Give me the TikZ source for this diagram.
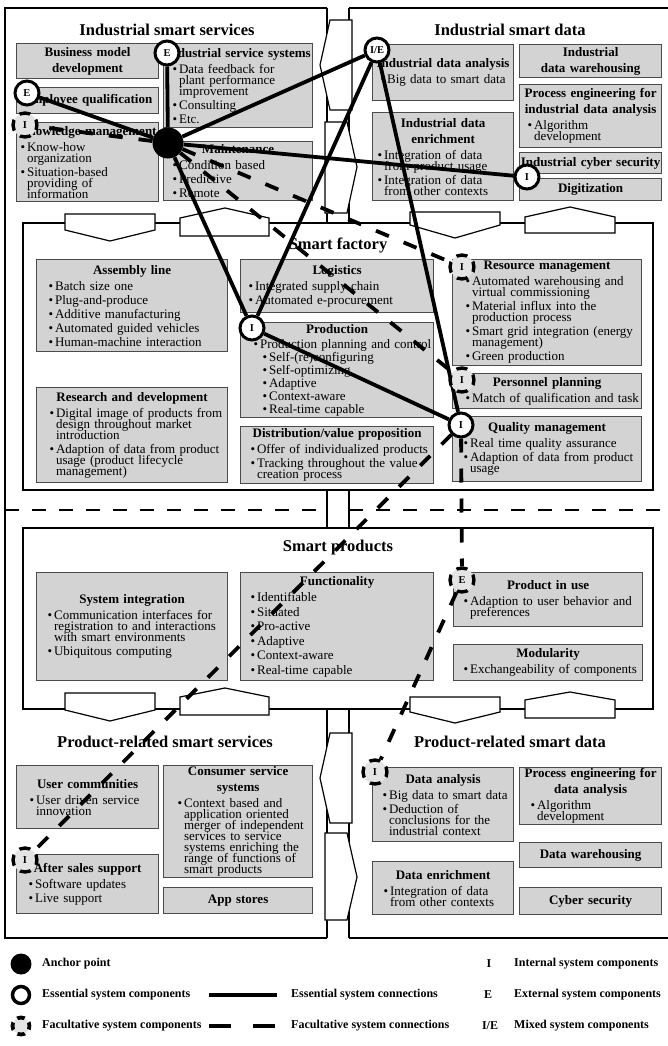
\documentclass[tikz,border=0pt]{standalone}
\usepackage{fontspec}
\setmainfont{Liberation Serif}
\usepackage{tikz}
\usetikzlibrary{positioning}
\definecolor{boxgray}{RGB}{211,211,211}
\definecolor{boxedge}{RGB}{75,75,75}
\definecolor{facgray}{RGB}{228,228,228}

\pgfdeclarelayer{front}
\pgfsetlayers{main,front}

\newlength{\bulind}
\newcommand{\hd}[1]{{\centering\setlength{\parskip}{0pt}\fontsize{13}{16}\selectfont\bfseries #1\par}\vspace{2pt}}
\newcommand{\itm}[1]{{\raggedright\let\\\newline\leftskip=\bulind\hangindent=6.5pt\hangafter=1\noindent\makebox[6.5pt][l]{\textbullet}#1\par}}
\newcommand{\sitm}[1]{{\raggedright\let\\\newline\leftskip=\dimexpr\bulind+9pt\relax\hangindent=6.5pt\hangafter=1\noindent\makebox[6.5pt][l]{\textbullet}#1\par}}

\begin{document}
\begin{tikzpicture}[
  x=1pt, y=-1pt,
  gbox/.style 2 args={draw=boxedge, line width=1.2pt, fill=boxgray, anchor=north west,
    inner xsep=1pt, inner ysep=0.5pt, minimum width=#1pt, minimum height=#2pt,
    text width=#1pt-2pt, font=\fontsize{13}{11}\selectfont, bul=7pt,
    execute at begin node={\setlength{\parskip}{3pt}\lineskiplimit=-\maxdimen}},
  bul/.code={\setlength{\bulind}{#1}},
  qtitle/.style={font=\fontsize{16.5}{18}\selectfont\bfseries, inner sep=0pt},
  outerln/.style={line width=2.4pt, line join=miter},
  thinln/.style={line width=1.2pt},
  tabshape/.style={draw, fill=white, line width=1.2pt, line join=miter},
  sepln/.style={line width=2pt, dash pattern=on 14pt off 13pt},
  anc/.style={circle, fill=black, minimum size=31pt, inner sep=0pt},
  ess/.style={circle, draw, line width=3pt, fill=white, minimum size=24pt, inner sep=0pt,
    font=\fontsize{10.5}{10.5}\selectfont\bfseries},
  fac/.style={ess, line width=3.4pt, fill=facgray, dash pattern=on 11pt off 7.85pt, dash phase=5.5pt},
  econ/.style={line width=3.8pt},
  fcon/.style={line width=3.8pt, dash pattern=on 14pt off 16pt},
  lgtext/.style={font=\fontsize{12}{12}\selectfont\bfseries, inner sep=0pt}
]
  \useasboundingbox (0,0) rectangle (667,1046);

  % frames of the four quadrants
  \draw[outerln] (327,8) -- (5,8) -- (5,938) -- (327,938);
  \draw[outerln] (349,8) -- (668,8);
  \draw[outerln] (349,938) -- (668,938);
  \draw[thinln] (327,8) -- (327,223) (327,490) -- (327,528) (327,709) -- (327,938);
  \draw[thinln] (349,8) -- (349,223) (349,490) -- (349,528) (349,709) -- (349,938);
  \draw[sepln] (5,510) -- (327,510);
  \draw[sepln] (349,510) -- (667,510);
  \draw[thinln] (23,223) rectangle (653,490);
  \draw[thinln] (23,528) rectangle (653,709);

  % tabs between the areas
  \draw[tabshape] (352,20) -- (330,20) -- (320,65) -- (330,110) -- (352,110) -- cycle;
  \draw[tabshape] (325,122) -- (347,122) -- (357,167) -- (347,213) -- (325,213) -- cycle;
  \draw[tabshape] (352,733) -- (330,733) -- (320,778) -- (330,823) -- (352,823) -- cycle;
  \draw[tabshape] (325,833) -- (347,833) -- (357,877) -- (347,920) -- (325,920) -- cycle;
  \draw[tabshape] (65,214) -- (155,214) -- (155,230) -- (110,241) -- (65,230) -- cycle;
  \draw[tabshape] (180,236) -- (180,218) -- (225,208) -- (269,218) -- (269,236) -- cycle;
  \draw[tabshape] (410,212) -- (500,212) -- (500,225) -- (455,238) -- (410,225) -- cycle;
  \draw[tabshape] (525,233) -- (525,217) -- (570,207) -- (615,217) -- (615,233) -- cycle;
  \draw[tabshape] (65,693) -- (155,693) -- (155,710) -- (110,721) -- (65,710) -- cycle;
  \draw[tabshape] (180,715) -- (180,697) -- (225,688) -- (269,697) -- (269,715) -- cycle;
  \draw[tabshape] (410,697) -- (500,697) -- (500,712) -- (455,723) -- (410,712) -- cycle;
  \draw[tabshape] (525,718) -- (525,700) -- (570,692) -- (615,700) -- (615,718) -- cycle;

  % Industrial smart services
  \node[qtitle] (tiss) at (167,30) {Industrial smart services};
  \node[gbox={142}{35}] (bizmodel) at (16,43) {\hd{Business model\\development}};
  \node[gbox={142}{26}] (empqual) at (16,87) {\hd{Employee qualification}};
  \node[gbox={142}{79}, bul=3pt] (knowmgmt) at (16,122)
    {\hd{Knowledge management}\itm{Know-how\\organization}\itm{Situation-based\\providing of\\information}};
  \node[gbox={149}{84}, bul=8pt] (indserv) at (163,43)
    {\hd{Industrial service systems}\itm{Data feedback for\\plant performance\\improvement}\itm{Consulting}\itm{Etc.}};
  \node[gbox={149}{59}, bul=8pt] (maint) at (163,141)
    {\hd{Maintenance}\itm{Condition based}\itm{Predictive}\itm{Remote}};

  % Industrial smart data
  \node[qtitle] (tisd) at (510,30) {Industrial smart data};
  \node[gbox={141}{56}] (idana) at (372,44) {\hd{Industrial data analysis}\itm{Big data to smart data}};
  \node[gbox={141}{88}, bul=4pt] (idenr) at (372,112)
    {\hd{Industrial data\\enrichment}\itm{Integration of data\\from product usage}\itm{Integration of data\\from other contexts}};
  \node[gbox={142}{33}] (idware) at (519,44) {\hd{Industrial\\data warehousing}};
  \node[gbox={142}{63}] (iproc) at (519,84)
    {\hd{Process engineering for\\industrial data analysis}\itm{Algorithm\\development}};
  \node[gbox={142}{21}] (icyber) at (519,152) {\hd{Industrial cyber security}};
  \node[gbox={142}{22}] (digit) at (519,178) {\hd{Digitization}};

  % Smart factory
  \node[qtitle] (tsf) at (338,245) {Smart factory};
  \node[gbox={191}{92}, bul=11pt] (assembly) at (36,259)
    {\hd{Assembly line}\itm{Batch size one}\itm{Plug-and-produce}\itm{Additive manufacturing}\itm{Automated guided vehicles}\itm{Human-machine interaction}};
  \node[gbox={191}{95}, bul=12pt] (resdev) at (36,387)
    {\hd{Research and development}\itm{Digital image of products from\\design throughout market\\introduction}\itm{Adaption of data from product\\usage (product lifecycle\\management)}};
  \node[gbox={193}{53}] (logist) at (240,259)
    {\hd{Logistics}\itm{Integrated supply chain}\itm{Automated e-procurement}};
  \node[gbox={193}{95}, bul=12pt, execute at begin node={\setlength{\parskip}{2pt}}] (prod) at (240,322)
    {\hd{Production}\itm{Production planning and control}\sitm{Self-(re)configuring}\sitm{Self-optimizing}\sitm{Adaptive}\sitm{Context-aware}\sitm{Real-time capable}};
  \node[gbox={193}{57}, bul=9pt] (distrib) at (240,426)
    {\hd{Distribution/value proposition}\itm{Offer of individualized products}\itm{Tracking throughout the value\\creation process}};
  \node[gbox={189}{106}, bul=12pt] (resmgmt) at (452,259)
    {\hd{Resource management}\itm{Automated warehousing and\\virtual commissioning}\itm{Material influx into the\\production process}\itm{Smart grid integration (energy\\management)}\itm{Green production}};
  \node[gbox={189}{35}, bul=12pt] (perspl) at (452,373)
    {\hd{Personnel planning}\itm{Match of qualification and task}};
  \node[gbox={189}{65}, bul=10pt] (qualmgmt) at (452,416)
    {\hd{Quality management}\itm{Real time quality assurance}\itm{Adaption of data from product\\usage}};

  % Smart products
  \node[qtitle] (tsp) at (338,548) {Smart products};
  \node[gbox={191}{108}, bul=10pt] (sysint) at (36,572)
    {\hd{System integration}\itm{Communication interfaces for\\registration to and interactions\\with smart environments}\itm{Ubiquitous computing}};
  \node[gbox={193}{108}, bul=9pt, execute at begin node={\setlength{\parskip}{3.5pt}}] (funct) at (240,572)
    {\hd{Functionality}\itm{Identifiable}\itm{Situated}\itm{Pro-active}\itm{Adaptive}\itm{Context-aware}\itm{Real-time capable}};
  \node[gbox={189}{54}, bul=9pt] (prodinuse) at (453,572)
    {\hd{Product in use}\itm{Adaption to user behavior and\\preferences}};
  \node[gbox={189}{36}, bul=9pt] (modul) at (453,644)
    {\hd{Modularity}\itm{Exchangeability of components}};

  % Product-related smart services
  \node[qtitle] (tpss) at (165,742) {Product-related smart services};
  \node[gbox={142}{63}, bul=12pt] (usercom) at (16,765)
    {\hd{User communities}\itm{User driven service\\innovation}};
  \node[gbox={142}{59}, bul=11pt] (aftersale) at (16,854)
    {\hd{After sales support}\itm{Software updates}\itm{Live support}};
  \node[gbox={149}{112}, bul=13pt] (conserv) at (163,765)
    {\hd{Consumer service\\systems}\itm{Context based and\\application oriented\\merger of independent\\services to service\\systems enriching the\\range of functions of\\smart products}};
  \node[gbox={149}{26}] (appstore) at (163,887) {\hd{App stores}};

  % Product-related smart data
  \node[qtitle] (tpsd) at (510,742) {Product-related smart data};
  \node[gbox={141}{74}, bul=9pt] (dana) at (372,767)
    {\hd{Data analysis}\itm{Big data to smart data}\itm{Deduction of\\conclusions for the\\industrial context}};
  \node[gbox={141}{53}, bul=10pt] (denr) at (372,861)
    {\hd{Data enrichment}\itm{Integration of data\\from other contexts}};
  \node[gbox={142}{57}, bul=10pt] (dproc) at (519,767)
    {\hd{Process engineering for\\data analysis}\itm{Algorithm\\development}};
  \node[gbox={142}{25}] (dware) at (519,842) {\hd{Data warehousing}};
  \node[gbox={142}{27}] (dcyber) at (519,887) {\hd{Cyber security}};

  % system components
  \begin{pgfonlayer}{front}
    \node[anc] (anchorpt) at (168,143) {};
    \node[ess] (extsvc) at (167,53) {E};
    \node[ess] (extqual) at (27,93) {E};
    \node[fac] (intknow) at (25,125) {I};
    \node[ess] (mixdata) at (377,50) {I/E};
    \node[ess] (intsec) at (527,177) {I};
    \node[ess] (intprod) at (252,328) {I};
    \node[fac] (intres) at (462,267) {I};
    \node[fac] (intpers) at (462,380) {I};
    \node[ess] (intqual) at (461,425) {I};
    \node[fac] (extuse) at (462,580) {E};
    \node[fac] (intdana) at (375,772) {I};
    \node[fac] (intafter) at (25,860) {I};
  \end{pgfonlayer}

  % essential connections
  \draw[econ] (anchorpt) -- (extsvc);
  \draw[econ] (anchorpt) -- (extqual);
  \draw[econ] (anchorpt) -- (mixdata);
  \draw[econ] (anchorpt) -- (intsec);
  \draw[econ] (anchorpt) -- (intprod);
  \draw[econ] (mixdata) -- (intprod);
  \draw[econ] (mixdata) -- (intqual);
  \draw[econ] (intprod) -- (intqual);
  % facultative connections
  \draw[fcon] (anchorpt) -- (intknow);
  \draw[fcon] (anchorpt) -- (intres);
  \draw[fcon] (anchorpt) -- (intpers);
  \draw[fcon] (intqual) -- (extuse);
  \draw[fcon] (intqual) -- (intafter);
  \draw[fcon] (extuse) -- (intdana);

  % legend
  \node[anc, minimum size=21pt] (lganchor) at (21,964) {};
  \node[lgtext, anchor=west] (lganchortxt) at (42,964) {Anchor point};
  \node[ess, minimum size=17pt, line width=3.5pt] (lgess) at (21,995) {};
  \node[lgtext, anchor=west] (lgesstxt) at (42,995) {Essential system components};
  \node[fac, minimum size=17pt, line width=3.8pt, dash pattern=on 7.5pt off 5.85pt, dash phase=3.75pt] (lgfac) at (21,1026) {};
  \node[lgtext, anchor=west] (lgfactxt) at (42,1026) {Facultative system components};
  \coordinate (lgeconA) at (209,995);
  \coordinate (lgeconB) at (277,995);
  \draw[econ] (lgeconA) -- (lgeconB);
  \node[lgtext, anchor=west] (lgecontxt) at (291,995) {Essential system connections};
  \coordinate (lgfconA) at (209,1026);
  \coordinate (lgfconB) at (275,1026);
  \draw[econ, dash pattern=on 22pt off 22pt] (lgfconA) -- (lgfconB);
  \node[lgtext, anchor=west] (lgfcontxt) at (291,1026) {Facultative system connections};
  \node[lgtext] (lgI) at (489,964) {I};
  \node[lgtext, anchor=west] (lgItxt) at (514,964) {Internal system components};
  \node[lgtext] (lgE) at (488,995) {E};
  \node[lgtext, anchor=west] (lgEtxt) at (514,995) {External system components};
  \node[lgtext] (lgIE) at (490,1026) {I/E};
  \node[lgtext, anchor=west] (lgIEtxt) at (514,1026) {Mixed system components};
\end{tikzpicture}
\end{document}
